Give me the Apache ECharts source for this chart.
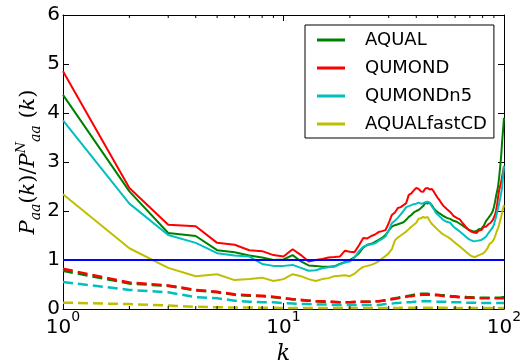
<!DOCTYPE html>
<html>
<head>
<meta charset="utf-8">
<script src="https://cdn.jsdelivr.net/npm/echarts@6/dist/echarts.min.js"></script>
<style>html,body{margin:0;padding:0;background:#fff}#c{width:526px;height:362px}</style>
</head>
<body>
<div id="c"></div>
<script>
// x values: wavenumber k
const kValues = Array.from({length: 100}, (_, i) => i + 1);
const minorTickK = [2,3,4,5,6,7,8,9,20,30,40,50,60,70,80,90];
const xTickExponents = [0, 1, 2];
const yTicks = [0,1,2,3,4,5,6];
const names = ['AQUAL', 'QUMOND', 'QUMONDn5', 'AQUALfastCD'];

// solid curves
const aqual = [4.37,2.40,1.55,1.49,1.20,1.16,1.09,1.05,1.00,1.01,
 1.10,0.97,0.89,0.88,0.86,0.86,0.87,0.92,0.96,1.00,
 1.06,1.14,1.25,1.31,1.33,1.37,1.41,1.45,1.51,1.60,
 1.68,1.71,1.73,1.75,1.77,1.82,1.88,1.92,1.97,2.00,
 2.02,2.06,2.10,2.17,2.15,2.17,2.12,2.06,2.01,1.97,
 1.95,1.92,1.90,1.88,1.86,1.85,1.84,1.82,1.80,1.79,
 1.78,1.76,1.74,1.72,1.70,1.68,1.66,1.64,1.62,1.61,
 1.60,1.59,1.58,1.57,1.59,1.62,1.63,1.62,1.64,1.67,
 1.70,1.75,1.80,1.83,1.86,1.89,1.92,1.96,2.00,2.08,
 2.18,2.30,2.40,2.50,2.68,2.88,3.10,3.40,3.65,3.90];
const qumond = [4.85,2.47,1.72,1.69,1.35,1.31,1.20,1.18,1.10,1.07,
 1.22,1.10,0.97,1.00,1.02,1.05,1.06,1.07,1.19,1.17,
 1.16,1.30,1.45,1.44,1.49,1.52,1.57,1.59,1.61,1.75,
 1.92,1.97,2.06,2.08,2.12,2.16,2.33,2.36,2.42,2.47,
 2.45,2.40,2.39,2.46,2.47,2.44,2.45,2.40,2.33,2.27,
 2.22,2.16,2.11,2.08,2.04,2.01,1.98,1.94,1.90,1.88,
 1.86,1.84,1.83,1.79,1.75,1.72,1.68,1.65,1.62,1.60,
 1.58,1.59,1.56,1.56,1.55,1.57,1.60,1.63,1.61,1.64,
 1.68,1.69,1.68,1.71,1.73,1.75,1.76,1.78,1.82,1.86,
 1.92,2.00,2.12,2.28,2.42,2.50,2.58,2.70,2.80,2.92];
const qumondn5 = [3.85,2.15,1.51,1.35,1.14,1.09,1.07,0.92,0.88,0.88,
 0.90,0.84,0.78,0.79,0.83,0.85,0.86,0.91,0.95,0.97,
 1.05,1.18,1.27,1.30,1.32,1.34,1.39,1.43,1.48,1.60,
 1.75,1.80,1.86,1.93,2.00,2.08,2.10,2.12,2.14,2.15,
 2.17,2.15,2.16,2.18,2.19,2.17,2.10,2.04,1.97,1.93,
 1.89,1.85,1.82,1.80,1.78,1.77,1.76,1.72,1.68,1.66,
 1.63,1.60,1.58,1.55,1.53,1.50,1.48,1.45,1.43,1.41,
 1.40,1.39,1.38,1.37,1.39,1.40,1.40,1.42,1.41,1.43,
 1.44,1.46,1.48,1.52,1.55,1.58,1.61,1.63,1.67,1.72,
 1.80,1.88,1.97,2.06,2.15,2.25,2.36,2.47,2.70,2.92];
const aqualFastCD = [2.34,1.24,0.84,0.67,0.71,0.59,0.61,0.64,0.57,0.61,
 0.71,0.67,0.61,0.57,0.61,0.63,0.67,0.68,0.69,0.67,
 0.72,0.80,0.86,0.88,0.90,0.93,0.97,1.03,1.08,1.14,
 1.22,1.40,1.46,1.50,1.54,1.58,1.63,1.68,1.72,1.76,
 1.84,1.85,1.88,1.86,1.88,1.80,1.74,1.70,1.66,1.62,
 1.58,1.55,1.52,1.50,1.48,1.46,1.43,1.41,1.38,1.35,
 1.33,1.30,1.28,1.25,1.22,1.20,1.17,1.15,1.12,1.10,
 1.08,1.07,1.06,1.06,1.07,1.09,1.12,1.11,1.14,1.13,
 1.15,1.17,1.18,1.23,1.28,1.33,1.34,1.36,1.38,1.42,
 1.48,1.54,1.60,1.65,1.72,1.80,1.88,1.96,2.05,2.12];

// dashed curves
const aqualDash = [0.78,0.52,0.47,0.38,0.34,0.29,0.27,0.26,0.24,0.22,
 0.20,0.18,0.17,0.16,0.15,0.15,0.14,0.14,0.14,0.14,
 0.14,0.15,0.15,0.15,0.15,0.16,0.16,0.17,0.18,0.19,
 0.21,0.22,0.23,0.24,0.25,0.26,0.27,0.28,0.29,0.30,
 0.30,0.31,0.31,0.31,0.31,0.30,0.30,0.30,0.29,0.29,
 0.29,0.28,0.28,0.28,0.27,0.27,0.27,0.26,0.26,0.26,
 0.26,0.25,0.25,0.25,0.25,0.25,0.24,0.24,0.24,0.24,
 0.24,0.24,0.24,0.23,0.23,0.23,0.23,0.23,0.23,0.23,
 0.23,0.23,0.23,0.23,0.23,0.23,0.23,0.23,0.23,0.23,
 0.23,0.23,0.23,0.23,0.23,0.23,0.24,0.24,0.24,0.24];
const qumondDash = [0.82,0.54,0.48,0.39,0.35,0.30,0.28,0.27,0.25,0.22,
 0.20,0.19,0.17,0.16,0.16,0.15,0.15,0.14,0.14,0.14,
 0.15,0.15,0.15,0.15,0.15,0.16,0.16,0.17,0.18,0.19,
 0.20,0.21,0.22,0.23,0.24,0.25,0.26,0.26,0.27,0.28,
 0.28,0.29,0.29,0.29,0.29,0.29,0.28,0.28,0.28,0.28,
 0.27,0.27,0.27,0.26,0.26,0.26,0.25,0.25,0.25,0.25,
 0.25,0.24,0.24,0.24,0.24,0.23,0.23,0.23,0.23,0.23,
 0.23,0.23,0.22,0.22,0.22,0.22,0.22,0.22,0.22,0.22,
 0.22,0.22,0.22,0.22,0.22,0.22,0.22,0.21,0.22,0.22,
 0.22,0.22,0.22,0.22,0.22,0.22,0.22,0.22,0.22,0.22];
const qumondn5Dash = [0.55,0.39,0.34,0.24,0.22,0.17,0.15,0.14,0.14,0.12,
 0.11,0.10,0.10,0.09,0.09,0.09,0.08,0.08,0.08,0.08,
 0.08,0.08,0.08,0.08,0.08,0.08,0.08,0.09,0.10,0.11,
 0.11,0.12,0.12,0.13,0.13,0.14,0.14,0.14,0.15,0.15,
 0.15,0.16,0.16,0.16,0.16,0.16,0.16,0.16,0.15,0.15,
 0.15,0.15,0.15,0.15,0.15,0.14,0.14,0.14,0.14,0.14,
 0.14,0.14,0.14,0.14,0.13,0.13,0.13,0.13,0.13,0.13,
 0.13,0.13,0.13,0.13,0.13,0.12,0.12,0.12,0.12,0.12,
 0.12,0.12,0.12,0.12,0.12,0.12,0.12,0.12,0.12,0.12,
 0.12,0.12,0.12,0.12,0.12,0.12,0.12,0.12,0.12,0.12];
const aqualFastCDDash = [0.13,0.10,0.07,0.045,0.035,0.03,0.03,0.025,0.025,0.02,
 0.02,0.02,0.02,0.02,0.02,0.02,0.02,0.02,0.02,0.02,
 0.02,0.02,0.02,0.02,0.02,0.02,0.02,0.02,0.02,0.02,
 0.02,0.02,0.02,0.025,0.025,0.025,0.025,0.025,0.025,0.025,
 0.025,0.025,0.025,0.025,0.025,0.025,0.025,0.025,0.025,0.025,
 0.025,0.025,0.025,0.025,0.025,0.02,0.02,0.02,0.02,0.02,
 0.02,0.02,0.02,0.02,0.02,0.02,0.02,0.02,0.02,0.02,
 0.02,0.02,0.02,0.02,0.02,0.02,0.02,0.02,0.02,0.02,
 0.02,0.02,0.02,0.02,0.02,0.02,0.02,0.02,0.02,0.02,
 0.02,0.02,0.02,0.02,0.02,0.02,0.02,0.02,0.02,0.02];

const refK = [1, 100];
const refValue = [1, 1];

const colors = ['#008000', '#ff0000', '#00bfbf', '#bfbf00'];
const solidData = [aqual, qumond, qumondn5, aqualFastCD];
const dashData = [aqualDash, qumondDash, qumondn5Dash, aqualFastCDDash];

const pair = (xs, ys) => xs.map((x, i) => [x, ys[i]]);

const series = [];
solidData.forEach((d, i) => {
  series.push({
    name: names[i], type: 'line', data: pair(kValues, d), showSymbol: false,
    color: colors[i], lineStyle: {color: colors[i], width: 2}, z: 3
  });
});
dashData.forEach((d, i) => {
  series.push({
    name: names[i] + ' (dashed)', type: 'line', data: pair(kValues, d), showSymbol: false,
    color: colors[i], lineStyle: {color: colors[i], width: 2.5, type: [10, 5]}, z: 3
  });
});
series.push({
  name: 'ref', type: 'line', data: pair(refK, refValue), showSymbol: false,
  color: '#0000ff', lineStyle: {color: '#0000ff', width: 2}, z: 4
});
series.push({
  name: 'minorTicks', type: 'custom', silent: true, clip: false, z: 5,
  data: minorTickK.map(k => [k, 0]),
  encode: {x: 0, y: 1},
  renderItem: function (params, api) {
    const b = api.coord([api.value(0), 0]);
    const t = api.coord([api.value(0), 6]);
    return {type: 'group', children: [
      {type: 'line', shape: {x1: b[0], y1: b[1], x2: b[0], y2: b[1] - 3}, style: {stroke: '#000', lineWidth: 1}},
      {type: 'line', shape: {x1: t[0], y1: t[1], x2: t[0], y2: t[1] + 3}, style: {stroke: '#000', lineWidth: 1}}
    ]};
  }
});

const axisLine = {show: true, onZero: false, lineStyle: {color: '#000', width: 1}};
const tick = {show: true, inside: true, length: 6, lineStyle: {color: '#000', width: 1}};

const chart = echarts.init(document.getElementById('c'), null, {renderer: 'canvas'});
chart.setOption({
  animation: false,
  backgroundColor: '#fff',
  grid: {left: 63, right: 22, top: 15, bottom: 53, containLabel: false, outerBoundsMode: 'none'},
  legend: {
    data: names, orient: 'vertical', left: 305, top: 25,
    icon: 'rect', itemWidth: 28, itemHeight: 3, itemGap: 8,
    borderColor: '#000', borderWidth: 1, borderRadius: 0,
    padding: [5, 7, 4, 12], backgroundColor: '#fff',
    textStyle: {fontSize: 18, fontFamily: 'DejaVu Sans', color: '#000', lineHeight: 20, padding: [0, 0, 0, 15]}
  },
  xAxis: [{
    type: 'log', logBase: 10, min: 1, max: 100, position: 'bottom',
    axisLine: axisLine, axisTick: tick, splitLine: {show: false},
    axisLabel: {
      margin: 1, color: '#000',
      formatter: function (v) {
        const e = Math.round(Math.log10(v));
        return '{b|10}{s|' + xTickExponents[e] + '}';
      },
      rich: {
        b: {fontSize: 20, fontFamily: 'DejaVu Sans', color: '#000', lineHeight: 28, verticalAlign: 'bottom'},
        s: {fontSize: 14, fontFamily: 'DejaVu Sans', color: '#000', lineHeight: 14, verticalAlign: 'top'}
      }
    },
    name: 'k', nameLocation: 'middle', nameGap: 27,
    nameTextStyle: {fontSize: 22, fontStyle: 'italic', fontFamily: 'DejaVu Serif', color: '#000'}
  }, {
    type: 'log', logBase: 10, min: 1, max: 100, position: 'top',
    axisLine: axisLine, axisTick: tick, axisLabel: {show: false}, splitLine: {show: false}
  }],
  yAxis: [{
    type: 'value', min: 0, max: 6, interval: 1, position: 'left',
    axisLine: axisLine, axisTick: tick, splitLine: {show: false},
    axisLabel: {margin: 3, fontSize: 20, fontFamily: 'DejaVu Sans', color: '#000',
      formatter: v => String(yTicks[v])},
    name: '{i|P}{sb|aa}{n|(}{i|k}{n|)/}{i|P}{sp|N}{sb|aa}{n| (}{i|k}{n|)}',
    nameLocation: 'middle', nameRotate: 90, nameGap: 20, nameMoveOverlap: false,
    nameTextStyle: {
      rich: {
        i: {fontSize: 21, fontStyle: 'italic', fontFamily: 'DejaVu Serif', color: '#000', lineHeight: 28, verticalAlign: 'middle'},
        n: {fontSize: 21, fontFamily: 'DejaVu Serif', color: '#000', lineHeight: 28, verticalAlign: 'middle'},
        sb: {fontSize: 14, fontStyle: 'italic', fontFamily: 'DejaVu Serif', color: '#000', lineHeight: 13, verticalAlign: 'bottom'},
        sp: {fontSize: 13, fontStyle: 'italic', fontFamily: 'DejaVu Serif', color: '#000', lineHeight: 13, verticalAlign: 'top'}
      }
    }
  }, {
    type: 'value', min: 0, max: 6, interval: 1, position: 'right',
    axisLine: axisLine, axisTick: tick, axisLabel: {show: false}, splitLine: {show: false}
  }],
  series: series
});
</script>
</body>
</html>
